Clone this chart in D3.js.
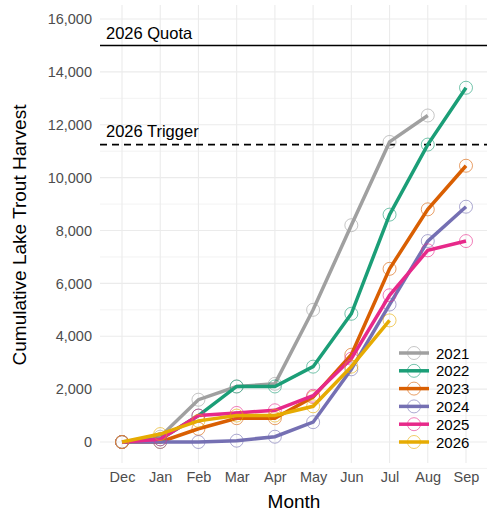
<!DOCTYPE html><html><head><script src="https://d3js.org/d3.v7.min.js"></script>
<style>body{margin:0;background:#fff}text{font-family:"Liberation Sans",Arial,sans-serif}</style></head><body>
<svg id="c" width="500" height="525"></svg>
<script>
const months=["Dec","Jan","Feb","Mar","Apr","May","Jun","Jul","Aug","Sep"];
const years=["2021","2022","2023","2024","2025","2026"];
const colors=["#A0A0A0","#1B9E77","#D95F02","#7570B3","#E7298A","#E6AB02"];
const v2021=[0,200,1600,2100,2200,5000,8200,11350,12350];
const v2022=[0,100,1000,2100,2100,2850,4850,8600,11250,13400];
const v2023=[0,0,500,900,900,1700,3300,6550,8800,10450];
const v2024=[0,0,0,50,200,750,2750,5200,7600,8900];
const v2025=[0,100,1000,1100,1200,1750,3150,5550,7250,7600];
const v2026=[0,300,800,1000,1000,1350,2850,4600];
const series=[v2021,v2022,v2023,v2024,v2025,v2026];
const yTicks=[0,2000,4000,6000,8000,10000,12000,14000,16000];
const quota=15000, trigger=11250;
const svg=d3.select("#c");
const L=100,R=487,T=5,B=463;
const x=d3.scalePoint().domain(months).range([122,466]);
const y=d3.scaleLinear().domain([0,16000]).range([442,19]);
const g=svg.append("g");
d3.range(-1000,16001,1000).forEach(t=>g.append("line").attr("x1",L).attr("x2",R).attr("y1",y(t)).attr("y2",y(t)).attr("stroke","#ebebeb").attr("stroke-width",t%2000?0.6:1.1));
months.forEach(m=>g.append("line").attr("x1",x(m)).attr("x2",x(m)).attr("y1",T).attr("y2",B).attr("stroke","#ebebeb").attr("stroke-width",1.1));
svg.append("g").attr("transform",`translate(${L-4},0)`).call(d3.axisLeft(y).tickValues(yTicks).tickFormat(d3.format(",")).tickSize(0).tickPadding(4))
 .call(a=>a.select(".domain").remove()).selectAll("text").attr("font-size",14.5).attr("fill","#4d4d4d");
svg.append("g").attr("transform",`translate(0,${B+5})`).call(d3.axisBottom(x).tickSize(0).tickPadding(4))
 .call(a=>a.select(".domain").remove()).selectAll("text").attr("font-size",14.5).attr("fill","#4d4d4d");
svg.append("line").attr("x1",L).attr("x2",R).attr("y1",y(quota)).attr("y2",y(quota)).attr("stroke","#000").attr("stroke-width",1.6);
svg.append("line").attr("x1",L).attr("x2",R).attr("y1",y(trigger)).attr("y2",y(trigger)).attr("stroke","#000").attr("stroke-width",1.6).attr("stroke-dasharray","7,5");
svg.append("text").attr("x",106).attr("y",y(quota)-6).attr("font-size",16.5).text("2026 Quota");
svg.append("text").attr("x",106).attr("y",y(trigger)-8).attr("font-size",16.5).text("2026 Trigger");
const line=d3.line().x((d,i)=>x(months[i])).y(d=>y(d));
series.forEach((s,k)=>{
 svg.append("path").attr("d",line(s)).attr("fill","none").attr("stroke",colors[k]).attr("stroke-width",3.5);
 s.forEach((d,i)=>svg.append("circle").attr("cx",x(months[i])).attr("cy",y(d)).attr("r",6.5).attr("fill","none").attr("stroke",colors[k]).attr("stroke-opacity",0.6).attr("stroke-width",1));
});
years.forEach((yr,k)=>{
 const yy=353+k*17.8;
 svg.append("line").attr("x1",399).attr("x2",429).attr("y1",yy).attr("y2",yy).attr("stroke",colors[k]).attr("stroke-width",3.5);
 svg.append("circle").attr("cx",414).attr("cy",yy).attr("r",6.5).attr("fill","none").attr("stroke",colors[k]).attr("stroke-opacity",0.6);
 svg.append("text").attr("x",436).attr("y",yy+5.5).attr("font-size",15).text(yr);
});
svg.append("text").attr("x",294).attr("y",508).attr("text-anchor","middle").attr("font-size",19).text("Month");
svg.append("text").attr("transform","translate(26,235) rotate(-90)").attr("text-anchor","middle").attr("font-size",19).text("Cumulative Lake Trout Harvest");
</script></body></html>
